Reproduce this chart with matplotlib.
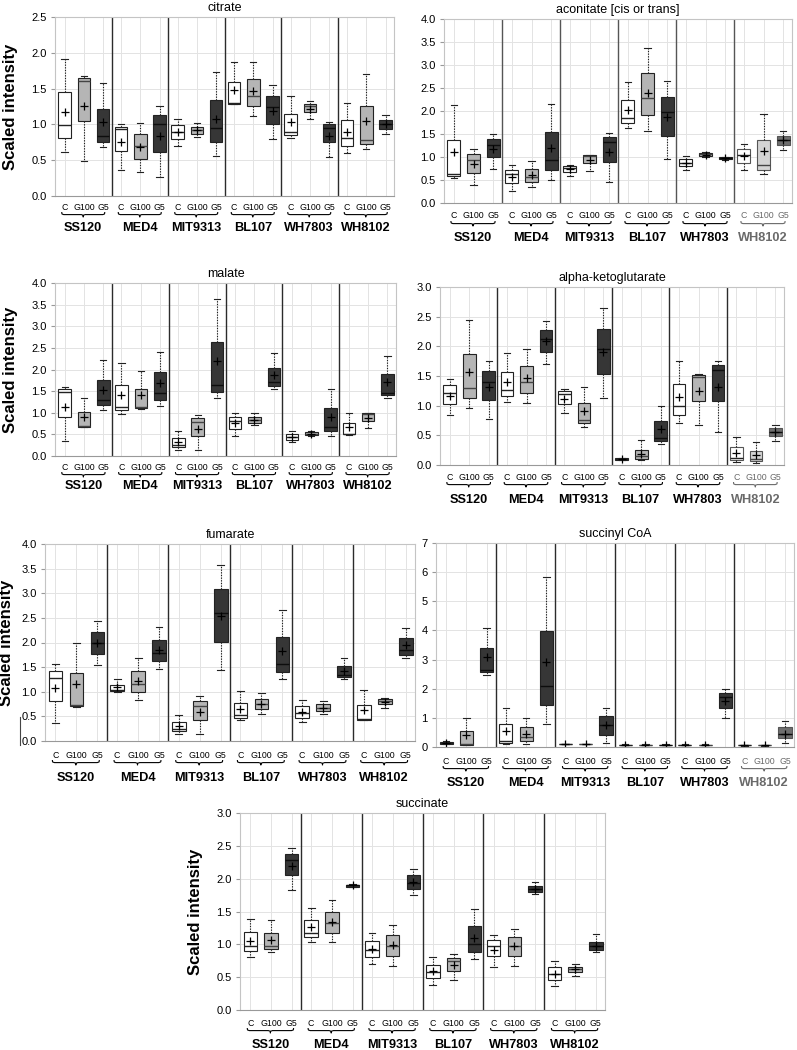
import numpy as np
import matplotlib.pyplot as plt
from matplotlib.path import Path
from matplotlib.patches import PathPatch
from matplotlib.lines import Line2D

plt.rcParams['font.family'] = ['Liberation Sans', 'DejaVu Sans']

strains = ['SS120', 'MED4', 'MIT9313', 'BL107', 'WH7803', 'WH8102']
conds = ['C', 'G100', 'G5']

# each row: low whisker, Q1, median, Q3, high whisker, mean ; order C, G100, G5 per strain
citrate = [
    (0.62, 0.81, 0.99, 1.45, 1.91, 1.18), (0.49, 1.05, 1.61, 1.65, 1.68, 1.26), (0.68, 0.75, 0.84, 1.21, 1.58, 1.03),
    (0.36, 0.63, 0.93, 0.97, 1.01, 0.76), (0.34, 0.52, 0.70, 0.86, 1.02, 0.69), (0.27, 0.62, 1.00, 1.13, 1.26, 0.84),
    (0.70, 0.80, 0.90, 0.99, 1.07, 0.89), (0.82, 0.87, 0.92, 0.97, 1.02, 0.92), (0.56, 0.75, 0.95, 1.34, 1.73, 1.08),
    (1.29, 1.29, 1.30, 1.59, 1.87, 1.48), (1.12, 1.26, 1.40, 1.63, 1.87, 1.46), (0.79, 1.01, 1.24, 1.40, 1.55, 1.19),
    (0.81, 0.85, 0.89, 1.14, 1.40, 1.03), (1.08, 1.17, 1.25, 1.29, 1.33, 1.22), (0.55, 0.75, 0.95, 1.00, 1.04, 0.84),
    (0.60, 0.70, 0.81, 1.06, 1.30, 0.90), (0.65, 0.72, 0.78, 1.25, 1.71, 1.05), (0.87, 0.94, 1.00, 1.06, 1.13, 1.00),
]
aconitate = [
    (0.55, 0.58, 0.62, 1.38, 2.14, 1.10), (0.40, 0.66, 0.94, 1.06, 1.18, 0.84), (0.73, 1.00, 1.27, 1.39, 1.49, 1.17),
    (0.26, 0.44, 0.62, 0.72, 0.82, 0.57), (0.34, 0.45, 0.56, 0.74, 0.92, 0.60), (0.50, 0.71, 0.93, 1.54, 2.15, 1.19),
    (0.59, 0.68, 0.77, 0.80, 0.83, 0.75), (0.69, 0.86, 1.03, 1.04, 1.05, 0.93), (0.46, 0.89, 1.33, 1.43, 1.52, 1.10),
    (1.62, 1.73, 1.84, 2.23, 2.62, 2.03), (1.56, 1.92, 2.29, 2.83, 3.36, 2.40), (0.96, 1.46, 1.97, 2.31, 2.65, 1.86),
    (0.71, 0.80, 0.88, 0.96, 1.03, 0.88), (0.99, 1.02, 1.06, 1.08, 1.10, 1.05), (0.93, 0.95, 0.97, 0.99, 1.00, 0.97),
    (0.71, 0.88, 1.05, 1.17, 1.28, 1.02), (0.63, 0.72, 0.82, 1.38, 1.94, 1.13), (1.16, 1.27, 1.37, 1.46, 1.56, 1.37),
]
malate = [
    (0.35, 0.91, 1.48, 1.54, 1.60, 1.14), (0.68, 0.68, 0.69, 1.02, 1.33, 0.90), (1.07, 1.17, 1.29, 1.76, 2.23, 1.53),
    (0.98, 1.06, 1.13, 1.64, 2.14, 1.42), (1.08, 1.11, 1.14, 1.56, 1.97, 1.40), (1.15, 1.30, 1.46, 1.95, 2.41, 1.68),
    (0.15, 0.20, 0.26, 0.42, 0.58, 0.33), (0.15, 0.46, 0.78, 0.87, 0.95, 0.63), (1.34, 1.49, 1.65, 2.64, 3.62, 2.20),
    (0.46, 0.62, 0.82, 0.91, 1.00, 0.76), (0.72, 0.77, 0.84, 0.91, 1.00, 0.84), (1.55, 1.62, 1.70, 2.04, 2.38, 1.87),
    (0.33, 0.38, 0.44, 0.50, 0.57, 0.43), (0.46, 0.48, 0.51, 0.55, 0.58, 0.51), (0.46, 0.57, 0.68, 1.12, 1.55, 0.90),
    (0.48, 0.50, 0.52, 0.76, 1.00, 0.66), (0.65, 0.81, 0.97, 0.99, 1.00, 0.87), (1.35, 1.40, 1.46, 1.89, 2.32, 1.71),
]
akg = [
    (0.85, 1.03, 1.22, 1.34, 1.45, 1.17), (0.96, 1.13, 1.30, 1.87, 2.44, 1.56), (0.78, 1.09, 1.40, 1.58, 1.76, 1.32),
    (1.07, 1.17, 1.27, 1.57, 1.88, 1.40), (1.05, 1.22, 1.40, 1.67, 1.95, 1.47), (1.70, 1.91, 2.12, 2.27, 2.42, 2.09),
    (0.88, 1.03, 1.19, 1.24, 1.28, 1.11), (0.64, 0.70, 0.76, 1.05, 1.32, 0.91), (1.13, 1.53, 1.95, 2.30, 2.65, 1.91),
    (0.08, 0.09, 0.10, 0.11, 0.12, 0.10), (0.08, 0.10, 0.15, 0.25, 0.42, 0.19), (0.35, 0.40, 0.46, 0.74, 1.00, 0.60),
    (0.70, 0.85, 1.00, 1.37, 1.75, 1.14), (0.67, 1.08, 1.49, 1.51, 1.54, 1.24), (0.56, 1.08, 1.60, 1.68, 1.76, 1.31),
    (0.05, 0.08, 0.12, 0.30, 0.48, 0.21), (0.04, 0.06, 0.10, 0.24, 0.38, 0.17), (0.41, 0.49, 0.56, 0.62, 0.67, 0.56),
]
fumarate = [
    (0.37, 0.82, 1.27, 1.42, 1.57, 1.08), (0.70, 0.72, 0.74, 1.38, 1.99, 1.15), (1.54, 1.76, 1.98, 2.21, 2.43, 1.99),
    (1.00, 1.01, 1.03, 1.14, 1.25, 1.10), (0.83, 0.99, 1.15, 1.42, 1.69, 1.22), (1.46, 1.62, 1.78, 2.05, 2.31, 1.85),
    (0.15, 0.20, 0.25, 0.39, 0.53, 0.30), (0.15, 0.42, 0.71, 0.81, 0.91, 0.59), (1.45, 2.02, 2.60, 3.09, 3.57, 2.54),
    (0.42, 0.47, 0.53, 0.77, 1.01, 0.65), (0.55, 0.64, 0.75, 0.86, 0.97, 0.75), (1.26, 1.41, 1.57, 2.11, 2.65, 1.83),
    (0.38, 0.47, 0.57, 0.71, 0.84, 0.59), (0.54, 0.61, 0.68, 0.75, 0.81, 0.68), (1.26, 1.30, 1.35, 1.52, 1.68, 1.43),
    (0.42, 0.43, 0.45, 0.74, 1.03, 0.63), (0.67, 0.76, 0.81, 0.85, 0.87, 0.80), (1.69, 1.75, 1.84, 2.09, 2.30, 1.94),
]
succinyl_coa = [
    (0.10, 0.12, 0.15, 0.17, 0.22, 0.15), (0.07, 0.08, 0.10, 0.54, 0.98, 0.42), (2.48, 2.57, 2.65, 3.38, 4.10, 3.08),
    (0.10, 0.15, 0.20, 0.80, 1.35, 0.55), (0.10, 0.20, 0.34, 0.68, 1.01, 0.45), (0.80, 1.45, 2.11, 3.97, 5.82, 2.90),
    (0.09, 0.10, 0.10, 0.10, 0.11, 0.10), (0.09, 0.10, 0.10, 0.10, 0.11, 0.10), (0.15, 0.40, 0.77, 1.07, 1.35, 0.75),
    (0.07, 0.08, 0.08, 0.08, 0.09, 0.08), (0.07, 0.08, 0.08, 0.08, 0.09, 0.08), (0.07, 0.08, 0.08, 0.08, 0.09, 0.08),
    (0.07, 0.08, 0.08, 0.08, 0.09, 0.08), (0.07, 0.08, 0.08, 0.08, 0.09, 0.08), (1.01, 1.35, 1.70, 1.85, 1.99, 1.57),
    (0.05, 0.06, 0.06, 0.06, 0.07, 0.06), (0.05, 0.06, 0.06, 0.06, 0.07, 0.06), (0.15, 0.30, 0.45, 0.70, 0.90, 0.45),
]
succinate = [
    (0.80, 0.90, 0.98, 1.19, 1.39, 1.05), (0.88, 0.93, 0.97, 1.17, 1.37, 1.07), (1.82, 2.06, 2.29, 2.38, 2.46, 2.19),
    (1.04, 1.11, 1.18, 1.37, 1.56, 1.26), (1.03, 1.17, 1.32, 1.50, 1.68, 1.34), (1.87, 1.88, 1.90, 1.91, 1.92, 1.90),
    (0.70, 0.81, 0.91, 1.05, 1.18, 0.93), (0.67, 0.82, 0.98, 1.14, 1.30, 0.99), (1.75, 1.85, 1.94, 2.05, 2.15, 1.95),
    (0.38, 0.48, 0.58, 0.69, 0.80, 0.59), (0.45, 0.60, 0.75, 0.79, 0.85, 0.68), (0.78, 0.89, 1.01, 1.28, 1.54, 1.10),
    (0.66, 0.82, 0.98, 1.06, 1.14, 0.92), (0.67, 0.82, 0.97, 1.11, 1.24, 0.97), (1.77, 1.80, 1.84, 1.89, 1.95, 1.84),
    (0.36, 0.46, 0.55, 0.65, 0.75, 0.55), (0.52, 0.58, 0.62, 0.66, 0.70, 0.62), (0.89, 0.92, 0.97, 1.03, 1.16, 0.98),
]

W, H = 797, 1050
OFFS = [0.17, 0.51, 0.85]
FILLS = ['white', '#b5b5b5', '#363636']
FILLS_FADED = ['white', '#d4d4d4', '#6e6e6e']
MEDS = ['#222222', '#444444', '#0d0d0d']

fig = plt.figure(figsize=(W / 100, H / 100), dpi=100)


def brace(ax, x0, x1, y0, h, color):
    xm = (x0 + x1) / 2
    e = (x1 - x0) * 0.12
    verts = [(x0, y0), (x0, y0 - h), (x0, y0 - h), (x0 + e, y0 - h),
             (xm - e, y0 - h),
             (xm, y0 - h), (xm, y0 - h), (xm, y0 - 2 * h),
             (xm, y0 - h), (xm, y0 - h), (xm + e, y0 - h),
             (x1 - e, y0 - h),
             (x1, y0 - h), (x1, y0 - h), (x1, y0)]
    codes = ([Path.MOVETO] + [Path.CURVE4] * 3 + [Path.LINETO] + [Path.CURVE4] * 6
             + [Path.LINETO] + [Path.CURVE4] * 3)
    ax.add_patch(PathPatch(Path(verts, codes), fc='none', ec=color, lw=0.8,
                           transform=ax.get_xaxis_transform(), clip_on=False))


def panel(rect, data, title, ymax, step, ylabel=False, faded=False, offs=(12, 33),
          sep_color='#2b2b2b', fmt='{:.1f}', ylab_x=37):
    l, r, t, b = rect
    ah = b - t
    ax = fig.add_axes([l / W, 1 - b / H, (r - l) / W, ah / H])
    pos = [g + o for g in range(len(strains)) for o in OFFS]
    stats = [dict(whislo=d[0], q1=d[1], med=d[2], q3=d[3], whishi=d[4], mean=d[5]) for d in data]
    art = ax.bxp(stats, positions=pos, widths=0.22, capwidths=0.11, patch_artist=True,
                 showmeans=True, showfliers=False,
                 boxprops=dict(edgecolor='#222222', linewidth=0.8),
                 whiskerprops=dict(color='#222222', linewidth=0.8, linestyle=(0, (1.2, 1.2))),
                 capprops=dict(color='#222222', linewidth=0.8),
                 medianprops=dict(linewidth=1.0),
                 meanprops=dict(marker='+', markeredgecolor='black', markersize=6, markeredgewidth=0.9))
    for i, (bx, md) in enumerate(zip(art['boxes'], art['medians'])):
        k = i % 3
        last = faded and i >= 15
        bx.set_facecolor((FILLS_FADED if last else FILLS)[k])
        if last:
            bx.set_edgecolor('#555555')
        md.set_color(MEDS[k])
    for g in range(1, len(strains)):
        ax.axvline(g, color=sep_color, lw=1.0, zorder=1.5)
    ax.set_xlim(0, len(strains))
    ax.set_ylim(0, ymax)
    ax.set_xticks(pos)
    ax.tick_params(axis='x', length=0, labelbottom=False)
    ticks = np.arange(0, ymax + step / 2, step)
    ax.set_yticks(ticks)
    ax.set_yticklabels([fmt.format(v) for v in ticks])
    ax.tick_params(axis='y', length=3, color='#999999', labelsize=8, pad=3)
    ax.grid(True, color='#e3e3e3', lw=0.7)
    ax.set_axisbelow(True)
    for s in ax.spines.values():
        s.set_color('#c4c4c4')
        s.set_linewidth(0.8)
    ax.spines['bottom'].set_color('#999999')
    ax.set_title(title, fontsize=9, pad=4)
    if ylabel:
        ax.set_ylabel('Scaled intensity', fontsize=12, fontweight='bold')
        ax.yaxis.set_label_coords(-ylab_x / (r - l), 0.5)
    tr = ax.get_xaxis_transform()
    lab, name = offs
    for g, s in enumerate(strains):
        col = '#6a6a6a' if (faded and g == len(strains) - 1) else 'black'
        for o, c in zip(OFFS, conds):
            ax.text(g + o, -lab / ah, c, transform=tr, ha='center', va='center',
                    fontsize=6.3, color=col)
        brace(ax, g + 0.12, g + 0.88, -(lab + 5) / ah, 2.6 / ah, col)
        ax.text(g + 0.5, -name / ah, s, transform=tr, ha='center', va='center',
                fontsize=9.2, fontweight='bold', color=col)
    return ax


panel((55, 394, 17, 196), citrate, 'citrate', 2.5, 0.5, ylabel=True, offs=(11, 32))
panel((444, 792, 19, 203), aconitate, 'aconitate [cis or trans]', 4.0, 0.5, faded=True,
      offs=(13, 35), sep_color='#555555')
panel((55, 396, 283, 456), malate, 'malate', 4.0, 0.5, ylabel=True, offs=(11, 30))
panel((440, 784, 287, 465), akg, 'alpha-ketoglutarate', 3.0, 0.5, faded=True, offs=(12, 35))
panel((45, 415, 544, 741), fumarate, 'fumarate', 4.0, 0.5, ylabel=True, offs=(14, 37), ylab_x=31)
panel((436, 794, 543, 747), succinyl_coa, 'succinyl CoA', 7, 1, faded=True, offs=(14, 36),
      fmt='{:.0f}')
panel((240, 605, 813, 1010), succinate, 'succinate', 3.0, 0.5, ylabel=True, offs=(13, 35))

fig.add_artist(Line2D([20 / W, 20 / W], [1 - 717 / H, 1 - 745 / H], color='#444444', lw=0.8))

fig.savefig('out.png', dpi=100)
